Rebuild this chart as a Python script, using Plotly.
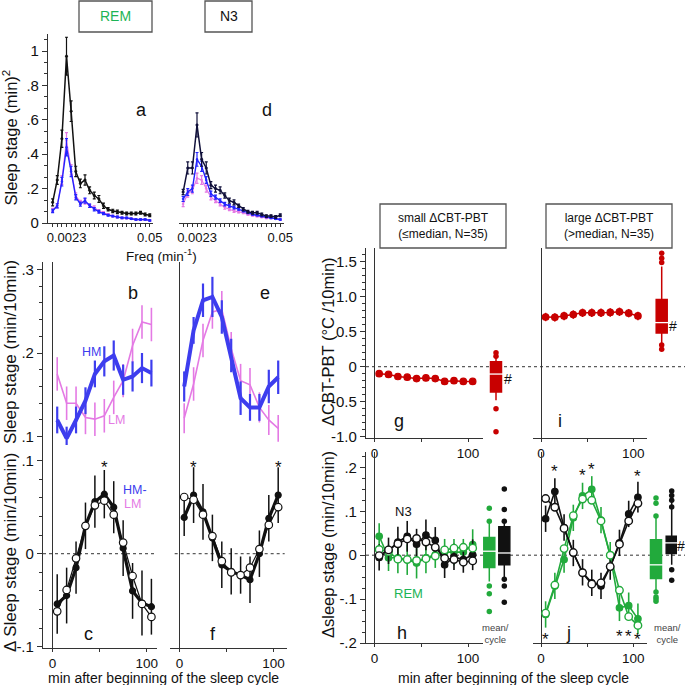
import plotly.graph_objects as go

W = H = 685
def fx(p): return p / W
def fy(p): return 1 - p / H

FONT = "Liberation Sans, Arial, sans-serif"
BLACK = "#111111"
BLUE_S = "#2323ff"
BLUE_T = "#3d3dee"
PINK = "#e47ae4"
GREEN = "#22aa3c"
GREEN_TXT = "#1db455"
RED = "#c80000"
AX = "#333333"

# ---------------- data ----------------
freq_bins = [0, 1, 2, 3, 4, 5, 6, 7, 8, 9, 10, 11, 12, 13, 14, 15, 16, 17, 18, 19, 20, 21]
freq_tick_pos = [3, 21]
freq_tick_text = ["0.0023", "0.05"]

rem_spec_all = [0.12, 0.25, 0.49, 0.97, 0.65, 0.30, 0.23, 0.25, 0.19, 0.16, 0.14, 0.10, 0.08, 0.07, 0.065, 0.06, 0.055, 0.055, 0.055, 0.06, 0.05, 0.045]
rem_spec_all_err = [0.02, 0.025, 0.05, 0.11, 0.06, 0.03, 0.025, 0.03, 0.02, 0.02, 0.02, 0.015, 0.01, 0.01, 0.01, 0.008, 0.008, 0.008, 0.008, 0.008, 0.008, 0.008]
rem_spec_hm = [0.07, 0.10, 0.24, 0.44, 0.30, 0.15, 0.11, 0.13, 0.10, 0.08, 0.065, 0.055, 0.045, 0.04, 0.035, 0.03, 0.03, 0.025, 0.02, 0.02, 0.02, 0.015]
rem_spec_hm_err = [0.01, 0.012, 0.025, 0.05, 0.03, 0.015, 0.012, 0.015, 0.01, 0.01, 0.008, 0.006, 0.005, 0.005, 0.005, 0.004, 0.004, 0.004, 0.004, 0.004, 0.004, 0.004]
rem_spec_lm = [0.075, 0.10, 0.25, 0.48, 0.31, 0.16, 0.12, 0.125, 0.10, 0.09, 0.07, 0.06, 0.05, 0.04, 0.035, 0.03, 0.028, 0.025, 0.02, 0.02, 0.02, 0.015]
rem_spec_lm_err = [0.01, 0.012, 0.025, 0.045, 0.03, 0.015, 0.012, 0.015, 0.01, 0.01, 0.008, 0.006, 0.005, 0.005, 0.005, 0.004, 0.004, 0.004, 0.004, 0.004, 0.004, 0.004]

n3_spec_all = [0.18, 0.32, 0.32, 0.57, 0.37, 0.32, 0.22, 0.20, 0.19, 0.16, 0.13, 0.12, 0.10, 0.08, 0.065, 0.06, 0.06, 0.05, 0.04, 0.04, 0.035, 0.045]
n3_spec_all_err = [0.015, 0.035, 0.035, 0.07, 0.04, 0.035, 0.02, 0.02, 0.02, 0.015, 0.015, 0.015, 0.01, 0.01, 0.008, 0.008, 0.008, 0.008, 0.008, 0.008, 0.008, 0.008]
n3_spec_hm = [0.14, 0.18, 0.20, 0.37, 0.33, 0.25, 0.17, 0.15, 0.13, 0.11, 0.10, 0.09, 0.08, 0.07, 0.06, 0.05, 0.045, 0.04, 0.035, 0.03, 0.025, 0.02]
n3_spec_hm_err = [0.015, 0.02, 0.02, 0.04, 0.03, 0.02, 0.015, 0.012, 0.01, 0.01, 0.008, 0.008, 0.006, 0.006, 0.005, 0.005, 0.004, 0.004, 0.004, 0.004, 0.004, 0.004]
n3_spec_lm = [0.11, 0.17, 0.19, 0.26, 0.25, 0.20, 0.15, 0.13, 0.11, 0.09, 0.08, 0.07, 0.065, 0.06, 0.05, 0.045, 0.04, 0.035, 0.03, 0.03, 0.025, 0.02]
n3_spec_lm_err = [0.015, 0.02, 0.02, 0.03, 0.025, 0.02, 0.015, 0.012, 0.01, 0.01, 0.008, 0.008, 0.006, 0.006, 0.005, 0.005, 0.004, 0.004, 0.004, 0.004, 0.004, 0.004]

time_min = [5, 15, 25, 35, 45, 55, 65, 75, 85, 95, 105]
time_ticks = [0, 100]
time_tick_text = ["0", "100"]
time_minor_ticks = [50]

rem_hm = [0.12, 0.098, 0.12, 0.143, 0.175, 0.19, 0.197, 0.168, 0.172, 0.182, 0.176]
rem_hm_err = [0.016, 0.014, 0.016, 0.016, 0.016, 0.018, 0.018, 0.018, 0.018, 0.018, 0.016]
rem_lm = [0.175, 0.14, 0.14, 0.123, 0.121, 0.125, 0.147, 0.167, 0.209, 0.237, 0.234]
rem_lm_err = [0.02, 0.02, 0.02, 0.02, 0.02, 0.02, 0.02, 0.02, 0.02, 0.02, 0.02]

n3_hm = [0.16, 0.227, 0.263, 0.267, 0.243, 0.197, 0.146, 0.135, 0.135, 0.16, 0.171]
n3_hm_err = [0.018, 0.016, 0.02, 0.024, 0.02, 0.02, 0.02, 0.016, 0.016, 0.02, 0.02]
n3_lm = [0.122, 0.163, 0.215, 0.249, 0.252, 0.205, 0.167, 0.162, 0.135, 0.12, 0.11]
n3_lm_err = [0.018, 0.02, 0.02, 0.02, 0.022, 0.02, 0.02, 0.02, 0.018, 0.018, 0.016]

rem_diff_a = [-0.054, -0.045, -0.015, 0.03, 0.056, 0.064, 0.05, 0.006, -0.04, -0.053, -0.057]
rem_diff_b = [-0.062, -0.039, -0.005, 0.03, 0.052, 0.057, 0.042, 0.012, -0.024, -0.054, -0.068]
rem_diff_err = [0.032, 0.03, 0.028, 0.025, 0.028, 0.026, 0.028, 0.03, 0.03, 0.035, 0.03]
n3_diff_a = [0.039, 0.063, 0.045, 0.017, -0.012, -0.019, -0.023, -0.028, 0.0, 0.038, 0.063]
n3_diff_b = [0.061, 0.058, 0.042, 0.019, -0.008, -0.02, -0.023, -0.015, 0.005, 0.031, 0.05]
n3_diff_err = [0.02, 0.03, 0.03, 0.025, 0.025, 0.025, 0.02, 0.025, 0.025, 0.025, 0.03]

temp_small = [-0.10, -0.11, -0.14, -0.15, -0.17, -0.16, -0.17, -0.21, -0.20, -0.21, -0.21]
temp_small_err = [0.04, 0.04, 0.04, 0.04, 0.04, 0.04, 0.04, 0.04, 0.04, 0.04, 0.04]
temp_large = [0.71, 0.705, 0.725, 0.745, 0.77, 0.77, 0.77, 0.775, 0.785, 0.765, 0.725]
temp_large_err = [0.06, 0.06, 0.06, 0.06, 0.06, 0.06, 0.06, 0.06, 0.06, 0.06, 0.06]

small_n3_a = [-0.005, 0.01, 0.03, 0.043, 0.025, 0.046, 0.034, -0.022, -0.004, -0.01, 0.001]
small_n3_b = [-0.001, 0.012, 0.026, 0.037, 0.038, 0.03, 0.018, -0.007, -0.01, -0.016, -0.013]
small_rem_a = [0.043, -0.006, -0.006, -0.01, -0.018, -0.006, 0.001, 0.007, 0.007, 0.007, 0.024]
small_rem_b = [0.013, 0.008, -0.009, -0.01, -0.012, -0.008, -0.002, 0.012, 0.016, 0.018, 0.016]
small_err = [0.03, 0.03, 0.035, 0.035, 0.035, 0.035, 0.03, 0.03, 0.03, 0.03, 0.035]

large_n3_a = [0.083, 0.145, 0.063, 0.005, -0.039, -0.063, -0.07, -0.026, 0.028, 0.094, 0.132]
large_n3_b = [0.129, 0.109, 0.061, 0.006, -0.04, -0.066, -0.063, -0.026, 0.025, 0.078, 0.118]
large_rem_a = [-0.135, -0.07, -0.01, 0.085, 0.135, 0.15, 0.08, 0.0, -0.12, -0.115, -0.145]
large_rem_b = [-0.132, -0.068, 0.015, 0.09, 0.128, 0.125, 0.078, 0.0, -0.08, -0.14, -0.16]
large_err = [0.03, 0.03, 0.03, 0.03, 0.03, 0.03, 0.03, 0.03, 0.03, 0.03, 0.035]

# box summaries: q1, median, q3, lower whisker, upper whisker, outliers
box_temp_small = dict(q1=-0.36, med=-0.105, q3=0.07, lo=-0.48, hi=0.13, out=[0.15, 0.20, -0.60, -0.93])
box_temp_large = dict(q1=0.48, med=0.63, q3=0.96, lo=0.33, hi=1.43, out=[1.49, 1.55, 1.62, 0.31, 0.25])
box_small_rem = dict(q1=-0.028, med=0.009, q3=0.04, lo=-0.06, hi=0.077, out=[0.107, 0.077, -0.07, -0.088, -0.128])
box_small_n3 = dict(q1=-0.022, med=0.005, q3=0.065, lo=-0.05, hi=0.077, out=[0.151, 0.104, 0.077, -0.055, -0.07, -0.107])
box_large_rem = dict(q1=-0.053, med=-0.022, q3=0.035, lo=-0.081, hi=0.085, out=[0.13, 0.118, 0.089, -0.084, -0.095, -0.1, -0.105])
box_large_n3 = dict(q1=0.004, med=0.028, q3=0.043, lo=-0.022, hi=0.125, out=[0.146, 0.136, 0.125, 0.11, -0.033, -0.057])

fig = go.Figure()

def line_err(x, y, err, xa, ya, color, lw, msize=0, msym="circle", mfill=None, ethick=1.2, ewidth=0, mode="lines+markers", ecolor=None, mline=1.2):
    fig.add_trace(go.Scatter(
        x=x, y=y, xaxis=xa, yaxis=ya, mode=mode,
        line=dict(color=color, width=lw),
        marker=dict(size=msize, symbol=msym, color=mfill if mfill else color,
                    line=dict(color=color, width=mline)),
        error_y=dict(type="data", array=err, visible=err is not None,
                     color=ecolor if ecolor else color, thickness=ethick, width=ewidth),
        showlegend=False, hoverinfo="skip", cliponaxis=False))

# a: REM spectra
line_err(freq_bins, rem_spec_lm, rem_spec_lm_err, "x", "y", PINK, 1.2, 2, ewidth=1.5, mline=0.5)
line_err(freq_bins, rem_spec_hm, rem_spec_hm_err, "x", "y", BLUE_S, 1.4, 2, ewidth=1.5, mline=0.5)
line_err(freq_bins, rem_spec_all, rem_spec_all_err, "x", "y", BLACK, 1.5, 2.5, ewidth=1.5, mline=0.5)
# d: N3 spectra
line_err(freq_bins, n3_spec_lm, n3_spec_lm_err, "x2", "y2", PINK, 1.2, 2, ewidth=1.5, mline=0.5)
line_err(freq_bins, n3_spec_hm, n3_spec_hm_err, "x2", "y2", BLUE_S, 1.4, 2, ewidth=1.5, mline=0.5)
line_err(freq_bins, n3_spec_all, n3_spec_all_err, "x2", "y2", "#10103a", 1.5, 2.5, ewidth=1.5, mline=0.5)

# b / e
line_err(time_min, rem_lm, rem_lm_err, "x3", "y3", PINK, 1.6, 0, ethick=1.6, mode="lines")
line_err(time_min, rem_hm, rem_hm_err, "x3", "y3", BLUE_T, 4, 0, ethick=2.2, mode="lines")
line_err(time_min, n3_lm, n3_lm_err, "x4", "y4", PINK, 1.6, 0, ethick=1.6, mode="lines")
line_err(time_min, n3_hm, n3_hm_err, "x4", "y4", BLUE_T, 4, 0, ethick=2.2, mode="lines")

# c / f
for xa, ya, a, b, e in [("x5", "y5", rem_diff_a, rem_diff_b, rem_diff_err),
                        ("x6", "y6", n3_diff_a, n3_diff_b, n3_diff_err)]:
    line_err(time_min, a, e, xa, ya, BLACK, 3.2, 6, ethick=1.5)
    line_err(time_min, b, None, xa, ya, BLACK, 1.2, 7.5, mfill="white")

# g / i
line_err(time_min, temp_small, temp_small_err, "x7", "y7", RED, 1.5, 6.5, ethick=1.5)
line_err(time_min, temp_large, temp_large_err, "x8", "y8", RED, 1.5, 6.5, ethick=1.5)

# h / j
for xa, ya, n3a, n3b, rema, remb, e in [("x9", "y9", small_n3_a, small_n3_b, small_rem_a, small_rem_b, small_err),
                                         ("x10", "y10", large_n3_a, large_n3_b, large_rem_a, large_rem_b, large_err)]:
    line_err(time_min, rema, e, xa, ya, GREEN, 1.6, 6.5, ethick=1.6)
    line_err(time_min, n3a, e, xa, ya, BLACK, 1.6, 6.5, ethick=1.6)
    line_err(time_min, remb, None, xa, ya, GREEN, 1.6, 7.5, mfill="white", mline=1.4)
    line_err(time_min, n3b, None, xa, ya, BLACK, 1.6, 7.5, mfill="white", mline=1.4)

# boxes
def add_box(st, pos, xa, ya, color):
    fig.add_trace(go.Box(x=[pos], q1=[st["q1"]], median=[st["med"]], q3=[st["q3"]],
                         lowerfence=[st["lo"]], upperfence=[st["hi"]], width=1.1,
                         fillcolor=color, line=dict(color=color, width=1.5), whiskerwidth=0,
                         boxpoints=False, xaxis=xa, yaxis=ya, showlegend=False, hoverinfo="skip"))
    fig.add_trace(go.Scatter(x=[pos], y=[st["med"]], xaxis=xa, yaxis=ya, mode="markers",
                             marker=dict(symbol="line-ew", size=10, line=dict(color="white", width=1.3)),
                             showlegend=False, hoverinfo="skip"))
    fig.add_trace(go.Scatter(x=[pos] * len(st["out"]), y=st["out"], xaxis=xa, yaxis=ya, mode="markers",
                             marker=dict(size=5.5, color=color), showlegend=False, hoverinfo="skip",
                             cliponaxis=False))

add_box(box_temp_small, 1.5, "x11", "y7", RED)
add_box(box_small_rem, 0.83, "x11", "y9", GREEN)
add_box(box_small_n3, 2.33, "x11", "y9", BLACK)
add_box(box_temp_large, 1.47, "x12", "y8", RED)
add_box(box_large_rem, 0.9, "x12", "y10", GREEN)
add_box(box_large_n3, 2.47, "x12", "y10", BLACK)

# ---------------- axes ----------------
def xd(a, b): return [fx(a), fx(b)]
def yd(top, bot): return [fy(bot), fy(top)]

base = dict(showgrid=False, linecolor=AX, linewidth=1.2, tickcolor=AX, ticklen=5, tickwidth=1.2,
            tickfont=dict(size=15, family=FONT, color="#111"), zeroline=False, fixedrange=True,
            automargin=False)

def mk(**kw):
    d = dict(base)
    d.update(kw)
    return d

lay = {}
spec_x = dict(range=[-1, 21.7], showline=True, ticks="outside", tickvals=freq_tick_pos, ticktext=freq_tick_text,
              ticklen=2, minor=dict(tickvals=freq_bins, ticklen=3, ticks="outside", tickcolor=AX),
              tickfont=dict(size=13, family=FONT, color="#111"))
lay["xaxis"] = mk(domain=xd(48, 153), anchor="y", **spec_x)
lay["xaxis2"] = mk(domain=xd(178.5, 283.5), anchor="y2", **spec_x)
lay["yaxis"] = mk(domain=yd(33.8, 223), anchor="x", range=[0, 1.1], showline=True, ticks="outside",
                  tickvals=[0, 0.2, 0.4, 0.6, 0.8, 1.0], ticktext=["0", ".2", ".4", ".6", ".8", "1"],
                  minor=dict(dtick=0.2 / 3, tick0=0, ticklen=3, ticks="outside", tickcolor=AX))
lay["yaxis2"] = mk(domain=yd(33.8, 223), anchor="x2", range=[0, 1.1], visible=False)

hidden_time_x = dict(showline=False, ticks="", showticklabels=False, zeroline=True, zerolinecolor=AX, zerolinewidth=1.2)
time_x = dict(showline=True, ticks="outside", tickvals=time_ticks, ticktext=time_tick_text, ticklen=3,
              minor=dict(tickvals=time_minor_ticks, ticklen=3, ticks="outside", tickcolor=AX),
              zeroline=True, zerolinecolor=AX, zerolinewidth=1.2,
              tickfont=dict(size=13.5, family=FONT, color="#111"))
lay["xaxis3"] = mk(domain=xd(43, 157), anchor="y3", range=[-10.08, 110.93], **hidden_time_x)
lay["xaxis4"] = mk(domain=xd(170, 287), anchor="y4", range=[-10.1, 114.36], **hidden_time_x)
lay["xaxis5"] = mk(domain=xd(43, 157), anchor="y5", range=[-10.08, 110.93], **time_x)
lay["xaxis6"] = mk(domain=xd(170, 287), anchor="y6", range=[-10.1, 114.36], **time_x)
lay["yaxis3"] = mk(domain=yd(262, 445), anchor="x3", range=[0.0901, 0.3087], showline=True, ticks="outside",
                   tickvals=[0.1, 0.2, 0.3], ticktext=[".1", ".2", ".3"],
                   minor=dict(dtick=0.02, tick0=0, ticklen=3, ticks="outside", tickcolor=AX))
lay["yaxis4"] = mk(domain=yd(262, 445), anchor="x4", range=[0.0901, 0.3087], visible=False)
lay["yaxis5"] = mk(domain=yd(445, 648), anchor="x5", range=[-0.1014, 0.1169], showline=True, ticks="outside",
                   tickvals=[-0.1, 0, 0.1], ticktext=["-.1", "0", ".1"],
                   minor=dict(dtick=0.02, tick0=0, ticklen=3, ticks="outside", tickcolor=AX))
lay["yaxis6"] = mk(domain=yd(445, 648), anchor="x6", range=[-0.1014, 0.1169], visible=False)

rtime_x = dict(time_x)
lay["xaxis7"] = mk(domain=xd(366, 483), anchor="y7", range=[-9.09, 116.04], **rtime_x)
lay["xaxis8"] = mk(domain=xd(533, 647), anchor="y8", range=[-8.67, 114.84], **rtime_x)
lay["xaxis9"] = mk(domain=xd(366, 483), anchor="y9", range=[-9.09, 116.04], **rtime_x)
lay["xaxis10"] = mk(domain=xd(533, 647), anchor="y10", range=[-8.67, 114.84], **rtime_x)
lay["yaxis7"] = mk(domain=yd(248, 438), anchor="x7", range=[-1.0186, 1.696], showline=True, ticks="outside",
                   tickvals=[-1.0, -0.5, 0, 0.5, 1.0, 1.5], ticktext=["-1.0", "-0.5", "0", "0.5", "1.0", "1.5"],
                   minor=dict(dtick=0.1, tick0=0, ticklen=3, ticks="outside", tickcolor=AX))
lay["yaxis8"] = mk(domain=yd(248, 438), anchor="x8", range=[-1.0186, 1.696], visible=False)
lay["yaxis9"] = mk(domain=yd(452, 643), anchor="x9", range=[-0.2, 0.235], showline=True, ticks="outside",
                   tickvals=[-0.2, -0.1, 0, 0.1, 0.2], ticktext=["-.2", "-.1", "0", ".1", ".2"],
                   minor=dict(dtick=0.025, tick0=0, ticklen=3, ticks="outside", tickcolor=AX))
lay["yaxis10"] = mk(domain=yd(452, 643), anchor="x10", range=[-0.2, 0.235], visible=False)
lay["xaxis11"] = mk(domain=xd(481, 511), range=[0, 3], type="linear", visible=False, anchor="free")
lay["xaxis12"] = mk(domain=xd(647, 677), range=[0, 3], type="linear", visible=False, anchor="free")

# ---------------- text ----------------
ann = []
def T(text, x, y, size, color="#111", angle=0, xanchor="center", yanchor="middle"):
    ann.append(dict(text=text, x=fx(x), y=fy(y), xref="paper", yref="paper", showarrow=False,
                    font=dict(size=size, family=FONT, color=color), textangle=angle,
                    xanchor=xanchor, yanchor=yanchor))

T("REM", 115.5, 16, 14, GREEN_TXT)
T("N3", 228.5, 16, 14)
T("small ΔCBT-PBT<br>(≤median, N=35)", 443, 226, 12)
T("large ΔCBT-PBT<br>(>median, N=35)", 609, 226, 12)
T("Sleep stage (min)<sup>2</sup>", 10.5, 138, 16.5, angle=-90)
T("Sleep stage (min/10min)", 10, 352, 17, angle=-90)
T("Δ Sleep stage (min/10min)", 10, 553, 17, angle=-90)
T("ΔCBT-PBT (°C /10min)", 328, 342, 16.5, angle=-90)
T("Δsleep stage (min/10min)", 328, 545, 16.5, angle=-90)
T("Freq (min<sup>-1</sup>)", 161, 255, 13.5)
T("min after beginning of the sleep cycle", 163, 678, 14)
T("min after beginning of the sleep cycle", 513, 678, 14)
for s, x, y in [("a", 141.7, 110), ("d", 266.7, 110), ("b", 133.3, 293), ("e", 265, 293),
                ("c", 88.3, 634), ("f", 213.3, 634), ("g", 399.3, 421), ("i", 560, 421),
                ("h", 401.7, 633), ("j", 568.3, 633)]:
    T(s, x, y, 18)
T("HM", 91.7, 352, 12.5, BLUE_T)
T("LM", 116.7, 420, 12.5, PINK)
T("HM-", 135, 490, 12.5, BLUE_T)
T("LM", 132, 503.5, 12.5, PINK)
T("N3", 403.3, 511, 13)
T("REM", 408.3, 593.5, 13, GREEN_TXT)
T("mean/<br>cycle", 495.5, 633, 9.5, "#444")
T("mean/<br>cycle", 667, 633, 9.5, "#444")
T("#", 507.5, 378.5, 14)
T("#", 673, 326, 14)
T("#", 681, 546, 14)

def star(xa, ya, x, y):
    ann.append(dict(text="*", x=x, y=y, xref=xa, yref=ya, showarrow=False, yshift=-4,
                    font=dict(size=17, family=FONT, color="#111")))

star("x5", "y5", 55, 0.097)
star("x6", "y6", 15, 0.097)
star("x6", "y6", 105, 0.097)
for x, y in [(15, 0.20), (45, 0.19), (55, 0.205), (105, 0.188),
             (5, -0.184), (85, -0.176), (95, -0.175), (105, -0.184)]:
    star("x10", "y10", x, y)

shapes = []
def rect(x0, y0, x1, y1):
    shapes.append(dict(type="rect", xref="paper", yref="paper", x0=fx(x0), x1=fx(x1), y0=fy(y1), y1=fy(y0),
                       line=dict(color="#555", width=1.3)))
rect(79, 1, 152, 32)
rect(205, 1, 252, 32)
rect(380, 204, 506, 248)
rect(546, 204, 672, 248)

def dotted(xref, x0, x1, yref):
    shapes.append(dict(type="line", xref=xref, yref=yref, x0=x0, x1=x1, y0=0, y1=0,
                       line=dict(color="#333", width=1, dash="dot"), layer="below"))
dotted("x5 domain", 0, 0.98, "y5")
dotted("x6 domain", 0.04, 0.98, "y6")
shapes.append(dict(type="line", xref="paper", yref="y7", x0=fx(366), x1=1, y0=0, y1=0,
                   line=dict(color="#333", width=1, dash="dot"), layer="below"))
shapes.append(dict(type="line", xref="paper", yref="y9", x0=fx(366), x1=1, y0=0, y1=0,
                   line=dict(color="#333", width=1, dash="dot"), layer="below"))

fig.update_layout(width=W, height=H, margin=dict(l=0, r=0, t=0, b=0, autoexpand=False),
                  paper_bgcolor="white", plot_bgcolor="rgba(0,0,0,0)",
                  font=dict(family=FONT, color="#111"), showlegend=False,
                  annotations=ann, shapes=shapes, boxmode="overlay", **lay)

fig.write_html("out.html", config={"displayModeBar": False},
               post_script="document.body.style.margin='0';document.body.style.overflow='hidden';")
